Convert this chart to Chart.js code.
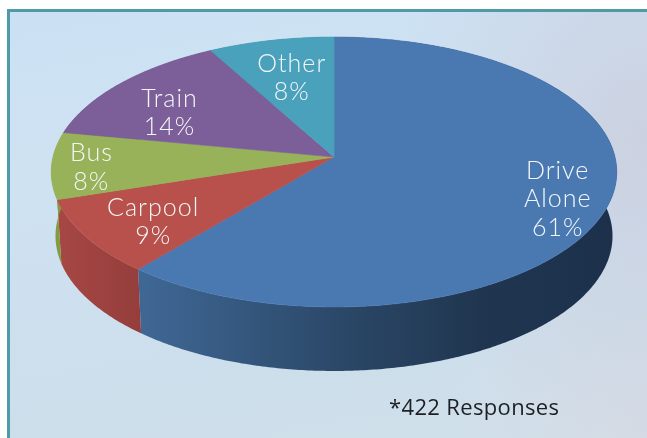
<!DOCTYPE html>
<html>
<head>
<meta charset="utf-8">
<style>
html,body{margin:0;padding:0;background:#fff;width:647px;height:438px;overflow:hidden}
#frame{position:absolute;left:7px;top:9px;width:640px;height:429px;box-sizing:border-box;
 border-left:3px solid #4f9aa6;border-top:3px solid #4f9aa6;
 background:
  radial-gradient(ellipse 260px 300px at 100% 30%, rgba(203,208,224,.95), rgba(203,208,224,0)),
  radial-gradient(ellipse 200px 170px at 100% 100%, rgba(214,218,228,.9), rgba(214,218,228,0)),
  linear-gradient(170deg,#cbe1f3 0%,#cfe2f2 35%,#cddeec 70%,#cfe0ea 100%);}
canvas{position:absolute;left:0;top:0}
</style>
<script src="https://cdn.jsdelivr.net/npm/chart.js@4"></script>
</head>
<body>
<div id="frame"></div>
<canvas id="c" width="647" height="438"></canvas>
<script>
const categories = ["Drive Alone","Carpool","Bus","Train","Other"];
const shares = [61,9,8,14,8];
const labelLines = [["Drive","Alone","61%"],["Carpool","9%"],["Bus","8%"],["Train","14%"],["Other","8%"]];
const footnote = "*422 Responses";

const topColors = ["#4a79b2","#b8504c","#98b25a","#7c5f98","#4aa1bb"];
const wallStops = [
  [[145,"#3f6794"],[340,"#2b4868"],[480,"#203650"],[620,"#1c304b"]],
  [[60,"#a64744"],[147,"#933d3b"]],
  [[50,"#849f45"],[70,"#7d983f"]],
  [[0,"#5f4875"],[647,"#5f4875"]],
  [[0,"#387c90"],[647,"#387c90"]]
];
const labelFraction = [0.82,0.75,0.86,0.74,0.63];
const labelNudge = [[0,4],[2,6],[0,3],[-4,11],[-1,-3]];

// Projection of the pie's unit disc onto the tilted view
const view = {cx:334, cy:157, a:281, b:133.3, p:1/9, depth:64, lowerScale:0.985};
function project(angle, r, lower){
  const u = Math.cos(angle)*r, v = Math.sin(angle)*r, d = 1 - view.p*v;
  const s = lower ? view.lowerScale : 1;
  return [view.cx + view.a*s*u/d, view.cy + view.b*v/d + (lower ? view.depth : 0)];
}
function topPath(ctx, start, end){
  ctx.beginPath();
  ctx.moveTo(view.cx, view.cy);
  const n = Math.max(2, Math.ceil((end-start)/0.01));
  for(let i=0;i<=n;i++){
    const p = project(start+(end-start)*i/n, 1, false);
    ctx.lineTo(p[0], p[1]);
  }
  ctx.closePath();
}
// Arcs keep the library's computed angles and are painted through the view projection
Chart.ArcElement.prototype.draw = function(ctx){
  ctx.save();
  topPath(ctx, this.startAngle, this.endAngle);
  ctx.fillStyle = this.options.backgroundColor;
  ctx.strokeStyle = this.options.backgroundColor;
  ctx.lineWidth = 0.6;
  ctx.fill();
  ctx.stroke();
  ctx.restore();
};
const walls = {
  id:"walls",
  beforeDatasetsDraw(chart){
    const ctx = chart.ctx, arcs = chart.getDatasetMeta(0).data;
    arcs.forEach((arc,i)=>{
      const s = arc.startAngle, e = arc.endAngle, n = Math.ceil((e-s)/0.01);
      ctx.beginPath();
      for(let k=0;k<=n;k++){const p=project(s+(e-s)*k/n,1,false); k?ctx.lineTo(p[0],p[1]):ctx.moveTo(p[0],p[1]);}
      for(let k=n;k>=0;k--){const p=project(s+(e-s)*k/n,1,true); ctx.lineTo(p[0],p[1]);}
      ctx.closePath();
      const st = wallStops[i], x0 = st[0][0], x1 = st[st.length-1][0];
      const g = ctx.createLinearGradient(x0,0,x1,0);
      st.forEach(t=>g.addColorStop((t[0]-x0)/(x1-x0), t[1]));
      ctx.fillStyle = g;
      ctx.fill();
    });
  }
};
const labels = {
  id:"labels",
  afterDatasetsDraw(chart){
    const ctx = chart.ctx, arcs = chart.getDatasetMeta(0).data;
    ctx.save();
    ctx.textAlign = "center";
    ctx.textBaseline = "middle";
    ctx.fillStyle = "#f4f7fa";
    ctx.font = "300 25px Lato";
    ctx.letterSpacing = "1px";
    arcs.forEach((arc,i)=>{
      const p = project((arc.startAngle+arc.endAngle)/2, labelFraction[i], false);
      const lines = labelLines[i], lh = 28.5;
      lines.forEach((t,k)=>{
        ctx.fillText(t, p[0]+labelNudge[i][0], p[1]+labelNudge[i][1]+(k-(lines.length-1)/2)*lh);
      });
    });
    ctx.fillStyle = "#1d1f22";
    ctx.font = "22px 'Open Sans'";
    ctx.letterSpacing = "0.35px";
    ctx.textAlign = "left";
    ctx.textBaseline = "alphabetic";
    ctx.fillText(footnote, 389, 415);
    ctx.restore();
  }
};
new Chart(document.getElementById("c"),{
  type:"pie",
  data:{labels:categories,datasets:[{data:shares,backgroundColor:topColors,borderWidth:0}]},
  options:{responsive:false,animation:false,events:[],
    plugins:{legend:{display:false},title:{display:false},tooltip:{enabled:false}}},
  plugins:[walls,labels]
});
</script>
</body>
</html>
